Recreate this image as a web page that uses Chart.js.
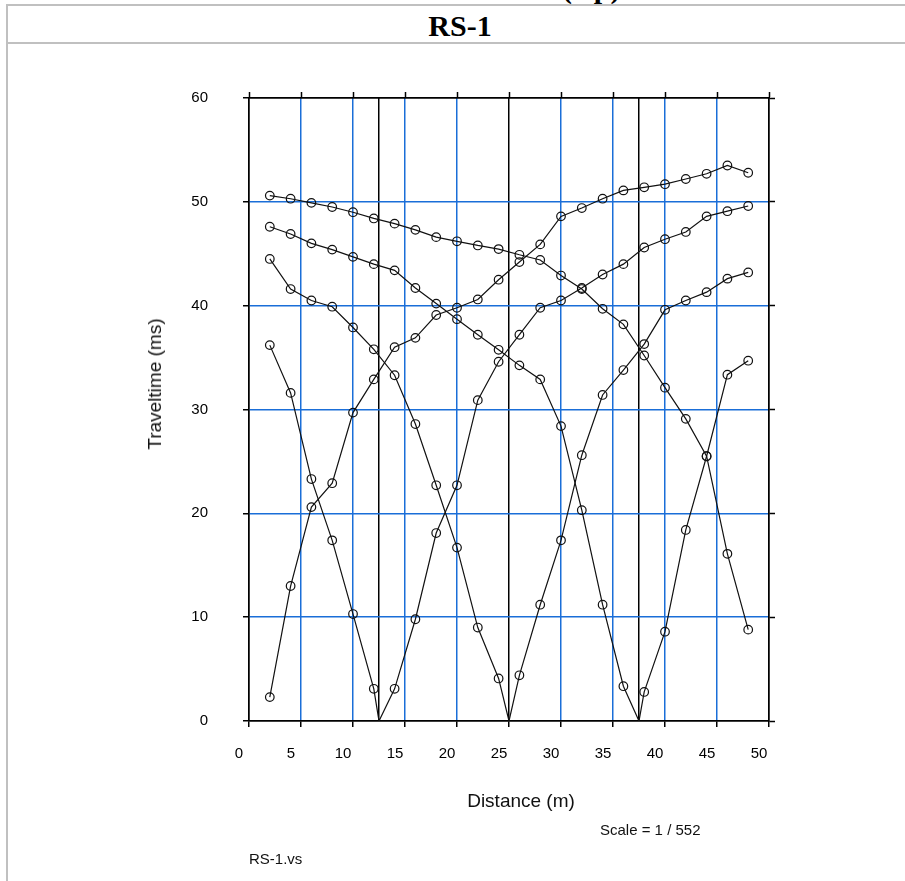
<!DOCTYPE html>
<html>
<head>
<meta charset="utf-8">
<title>RS-1</title>
<script src="https://cdn.jsdelivr.net/npm/chart.js@4.4.1/dist/chart.umd.min.js"></script>
<style>
  body {
    margin: 0;
    width: 905px;
    height: 881px;
    overflow: hidden;
    position: relative;
    background: #fff;
    font-family: "Liberation Sans", Arial, sans-serif;
  }
  .rule { position: absolute; background: #c0c0c0; }
  .serifTitle {
    position: absolute;
    left: 0;
    width: 920px;
    text-align: center;
    font-family: "Liberation Serif", "Times New Roman", serif;
    font-weight: bold;
    font-size: 30px;
    line-height: 30px;
    color: #000;
    white-space: nowrap;
  }
  .txt { position: absolute; color: #111; white-space: nowrap; z-index: 2; }
  #chartCanvas { position: absolute; left: 0; top: 0; z-index: 1; }
</style>
</head>
<body>
<!-- table frame -->
<div class="rule" style="left:6px; top:4px; right:0; height:2px;"></div>
<div class="rule" style="left:6px; top:42px; right:0; height:2px;"></div>
<div class="rule" style="left:6px; top:4px; width:2px; bottom:0;"></div>

<div class="serifTitle" style="top:-27px;">Travel Time Curves (Vp)</div>
<div class="serifTitle" style="top:11px;">RS-1</div>

<canvas id="chartCanvas" width="905" height="881"></canvas>

<div class="txt" style="left:155px; top:384px; font-size:19px; transform:translate(-50%,-50%) rotate(-90deg);">Traveltime (ms)</div>
<div class="txt" style="left:521px; top:801px; font-size:19px; transform:translate(-50%,-50%);">Distance (m)</div>
<div class="txt" style="left:600px; top:829px; font-size:15px; transform:translate(0,-50%);">Scale = 1 / 552</div>
<div class="txt" style="left:249px; top:858px; font-size:15px; transform:translate(0,-50%);">RS-1.vs</div>

<script>
// receiver positions (m) and shot positions (m)
const receivers = [2, 4, 6, 8, 10, 12, 14, 16, 18, 20, 22, 24, 26, 28, 30, 32, 34, 36, 38, 40, 42, 44, 46, 48];
const shotPositions = [0, 12.5, 25, 37.5, 50];

// traveltimes (ms) at each receiver, one list per shot
const timesShot0 = [2.3, 13.0, 20.6, 22.9, 29.7, 32.9, 36.0, 36.9, 39.1, 39.8, 40.6, 42.5, 44.2, 45.9, 48.6, 49.4, 50.3, 51.1, 51.4, 51.7, 52.2, 52.7, 53.5, 52.8];
const timesShot12 = [36.2, 31.6, 23.3, 17.4, 10.3, 3.1, 3.1, 9.8, 18.1, 22.7, 30.9, 34.6, 37.2, 39.8, 40.5, 41.7, 43.0, 44.0, 45.6, 46.4, 47.1, 48.6, 49.1, 49.6];
const timesShot25 = [44.5, 41.6, 40.5, 39.9, 37.9, 35.8, 33.3, 28.6, 22.7, 16.7, 9.0, 4.1, 4.4, 11.2, 17.4, 25.6, 31.4, 33.8, 36.3, 39.6, 40.5, 41.3, 42.6, 43.2];
const timesShot37 = [47.6, 46.9, 46.0, 45.4, 44.7, 44.0, 43.4, 41.7, 40.2, 38.7, 37.2, 35.75, 34.25, 32.9, 28.4, 20.3, 11.2, 3.35, 2.8, 8.6, 18.4, 25.5, 33.35, 34.7];
const timesShot50 = [50.6, 50.3, 49.9, 49.5, 49.0, 48.4, 47.9, 47.3, 46.6, 46.2, 45.8, 45.45, 44.9, 44.4, 42.9, 41.6, 39.7, 38.2, 35.2, 32.1, 29.1, 25.5, 16.1, 8.8];
const allTimes = [timesShot0, timesShot12, timesShot25, timesShot37, timesShot50];

// axis ticks
const xTickValues = [0, 5, 10, 15, 20, 25, 30, 35, 40, 45, 50];
const yTickValues = [0, 10, 20, 30, 40, 50, 60];

const BLUE = "#1a6ed8";
const BLACK = "#000000";
const FONT = "'Liberation Sans', Arial, sans-serif";

const xMin = xTickValues[0];
const xMax = xTickValues[xTickValues.length - 1];
const yMin = yTickValues[0];
const yMax = yTickValues[yTickValues.length - 1];

// shots that lie inside the spread get a zero-time point on their curve
const innerShots = shotPositions.filter((s) => s > xMin && s < xMax);

function buildCurve(shot, times) {
  const pts = receivers.map((x, i) => ({ x: x, y: times[i] }));
  if (innerShots.includes(shot)) {
    pts.push({ x: shot, y: 0 });
  }
  pts.sort((a, b) => a.x - b.x);
  return pts;
}

const datasets = shotPositions.map((shot, i) => ({
  label: "Shot " + shot,
  data: buildCurve(shot, allTimes[i]),
  showLine: true,
  borderColor: "#111",
  borderWidth: 1.2,
  tension: 0,
  pointRadius: (ctx) => (ctx.raw && ctx.raw.x === shot && ctx.raw.y === 0 ? 0 : 4.3),
  pointBorderColor: "#111",
  pointBorderWidth: 1.2,
  pointBackgroundColor: "rgba(255,255,255,0)",
}));

function toTicks(values) {
  return values.map((v) => ({ value: v }));
}

// tick list for the bottom axis: every 5 m plus the inner shot lines, no duplicates
const xGridValues = [...new Set(xTickValues.concat(innerShots))].sort((a, b) => a - b);

function xGridColor(ctx) {
  if (!ctx.tick) return BLUE;
  const v = ctx.tick.value;
  if (v === xMin || v === xMax || innerShots.includes(v)) return BLACK;
  return BLUE;
}
function yGridColor(ctx) {
  if (!ctx.tick) return BLUE;
  const v = ctx.tick.value;
  return v === yMin || v === yMax ? BLACK : BLUE;
}

new Chart(document.getElementById("chartCanvas"), {
  type: "scatter",
  data: { datasets: datasets },
  options: {
    responsive: false,
    animation: false,
    events: [],
    layout: { padding: { left: 189, right: 126, top: 88, bottom: 100 } },
    plugins: { legend: { display: false }, tooltip: { enabled: false } },
    scales: {
      x: {
        type: "linear",
        position: "bottom",
        min: xMin,
        max: xMax,
        afterBuildTicks: (axis) => {
          axis.ticks = toTicks(xGridValues);
        },
        afterFit: (axis) => {
          axis.height = 60;
        },
        ticks: {
          autoSkip: false,
          maxRotation: 0,
          padding: 18,
          labelOffset: -10,
          color: "#000",
          font: { family: FONT, size: 15 },
          callback: (v) => (xTickValues.includes(v) ? String(v) : ""),
        },
        grid: {
          color: xGridColor,
          lineWidth: 1.5,
          tickLength: 6,
          tickWidth: 1.5,
          tickColor: (ctx) => (ctx.tick && xTickValues.includes(ctx.tick.value) ? BLACK : "rgba(0,0,0,0)"),
        },
        border: { color: BLACK, width: 1.5 },
      },
      xTop: {
        type: "linear",
        position: "top",
        min: xMin,
        max: xMax,
        afterBuildTicks: (axis) => {
          axis.ticks = toTicks(xTickValues);
        },
        afterFit: (axis) => {
          axis.height = 10;
        },
        ticks: { display: false },
        grid: { drawOnChartArea: false, tickLength: 6, tickWidth: 1.5, tickColor: BLACK, color: BLACK },
        border: { color: BLACK, width: 1.5 },
      },
      y: {
        type: "linear",
        position: "left",
        min: yMin,
        max: yMax,
        afterBuildTicks: (axis) => {
          axis.ticks = toTicks(yTickValues);
        },
        afterFit: (axis) => {
          axis.width = 60;
        },
        ticks: {
          padding: 35,
          color: "#000",
          font: { family: FONT, size: 15 },
        },
        grid: {
          color: yGridColor,
          lineWidth: 1.5,
          tickLength: 6,
          tickWidth: 1.5,
          tickColor: BLACK,
        },
        border: { color: BLACK, width: 1.5 },
      },
      yRight: {
        type: "linear",
        position: "right",
        min: yMin,
        max: yMax,
        afterBuildTicks: (axis) => {
          axis.ticks = toTicks(yTickValues);
        },
        afterFit: (axis) => {
          axis.width = 10;
        },
        ticks: { display: false },
        grid: { drawOnChartArea: false, tickLength: 6, tickWidth: 1.5, tickColor: BLACK, color: BLACK },
        border: { color: BLACK, width: 1.5 },
      },
    },
  },
});
</script>
</body>
</html>
